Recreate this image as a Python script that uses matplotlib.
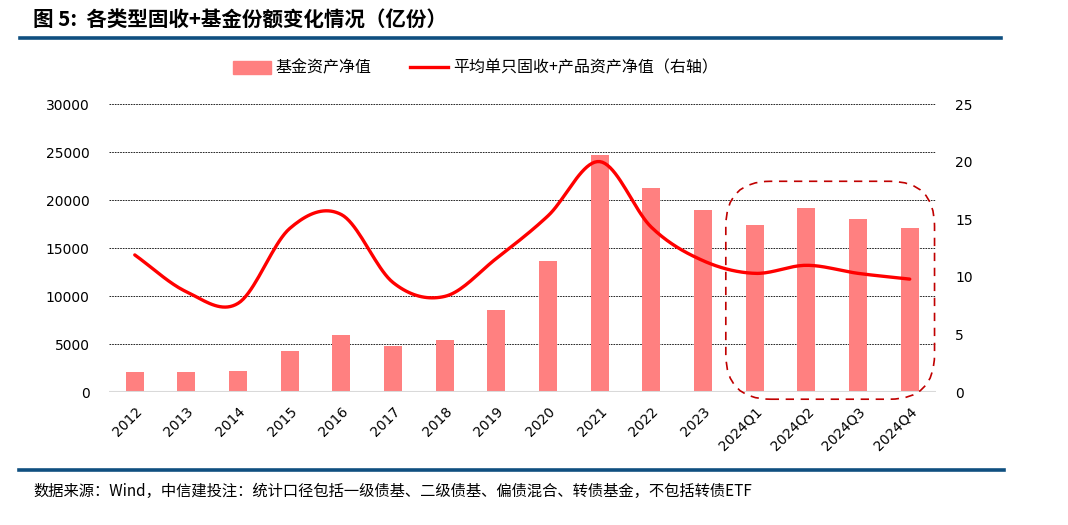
import matplotlib
matplotlib.use("Agg")
import matplotlib.pyplot as plt
import numpy as np
from matplotlib.patches import FancyBboxPatch
from matplotlib.lines import Line2D

plt.rcParams["font.family"] = ["Noto Sans CJK SC", "DejaVu Sans"]

categories = ["2012", "2013", "2014", "2015", "2016", "2017", "2018", "2019",
              "2020", "2021", "2022", "2023", "2024Q1", "2024Q2", "2024Q3", "2024Q4"]
net_assets = [2100, 2050, 2150, 4300, 5900, 4800, 5400, 8500,
              13600, 24700, 21300, 19000, 17400, 19200, 18000, 17100]
avg_assets = [11.9, 8.7, 7.7, 14.2, 15.4, 9.5, 8.3, 11.6,
              15.3, 20.0, 14.3, 11.4, 10.3, 11.0, 10.3, 9.8]
left_ticks = [0, 5000, 10000, 15000, 20000, 25000, 30000]
right_ticks = [0, 5, 10, 15, 20, 25]

BAR = "#ff8080"
LINE = "#ff0000"


def smooth(x, y, n=20):
    # Catmull-Rom, like the smoothed line in Excel
    x = np.asarray(x, float)
    y = np.asarray(y, float)
    px = np.concatenate([[2 * x[0] - x[1]], x, [2 * x[-1] - x[-2]]])
    py = np.concatenate([[2 * y[0] - y[1]], y, [2 * y[-1] - y[-2]]])
    xs, ys = [], []
    t = np.linspace(0, 1, n, endpoint=False)
    for i in range(1, len(px) - 2):
        for arr, out in ((px, xs), (py, ys)):
            p0, p1, p2, p3 = arr[i - 1], arr[i], arr[i + 1], arr[i + 2]
            out.extend(0.5 * (2 * p1 + (-p0 + p2) * t
                              + (2 * p0 - 5 * p1 + 4 * p2 - p3) * t ** 2
                              + (-p0 + 3 * p1 - 3 * p2 + p3) * t ** 3))
    xs.append(x[-1])
    ys.append(y[-1])
    return np.array(xs), np.array(ys)


fig = plt.figure(figsize=(10.68, 5.25), dpi=100)
ax = fig.add_axes([0.102, 0.2533, 0.774, 0.5486])
ax2 = ax.twinx()

idx = np.arange(len(categories))
ax.bar(idx, net_assets, width=0.35, color=BAR, zorder=2)
ax.set_ylim(0, 30000)
ax.set_xlim(-0.5, len(categories) - 0.5)
ax.set_yticks(left_ticks)
ax.set_xticks(idx)
ax.set_xticklabels(categories, rotation=45, ha="right", rotation_mode="anchor",
                   fontsize=10, family="DejaVu Sans")
ax.tick_params(axis="y", labelsize=10, length=0, pad=14)
ax.tick_params(axis="x", length=0, pad=9)
for lab in ax.get_yticklabels():
    lab.set_family("DejaVu Sans")
for v in left_ticks[1:]:
    ax.axhline(v, color="black", lw=0.6, ls=(0, (2, 1.2)), zorder=1)
ax.axhline(0, color="#d9d9d9", lw=2.2, zorder=3)

sx, sy = smooth(idx, avg_assets)
ax2.plot(sx, sy, color=LINE, lw=2.4, solid_capstyle="round", zorder=4)
ax2.set_ylim(0, 25)
ax2.set_yticks(right_ticks)
ax2.tick_params(axis="y", labelsize=10, length=0, pad=14)
for lab in ax2.get_yticklabels():
    lab.set_family("DejaVu Sans")

for a in (ax, ax2):
    for s in a.spines.values():
        s.set_visible(False)

# dashed rounded box around the 2024 quarters
fig.canvas.draw()
to_fig = ax.transData + fig.transFigure.inverted()
(x0, y0) = to_fig.transform((11.44, -750))
(x1, y1) = to_fig.transform((15.48, 21950))
aspect = fig.get_figwidth() / fig.get_figheight()
box = FancyBboxPatch((x0, y0), x1 - x0, y1 - y0,
                     boxstyle="round,pad=0,rounding_size=0.042",
                     mutation_aspect=aspect, transform=fig.transFigure,
                     fill=False, ec="#c00000", lw=1.2, ls=(0, (5, 4)), zorder=5)
fig.patches.append(box)

# legend
handles = [plt.Rectangle((0, 0), 1, 1, color=BAR),
           Line2D([0], [0], color=LINE, lw=2.4)]
fig.legend(handles, ["基金资产净值", "平均单只固收+产品资产净值（右轴）"],
           loc="center", bbox_to_anchor=(0.445, 0.87), ncol=2, frameon=False,
           fontsize=11.5, handlelength=2.4, handleheight=0.9, columnspacing=2.4,
           handletextpad=0.3)

# title and rules
fig.text(0.031, 0.962, "图 5:  各类型固收+基金份额变化情况（亿份）", fontsize=14.8,
         fontweight="bold", va="center", ha="left")
fig.add_artist(Line2D([0.019, 0.937], [0.928, 0.928], color="#0f4f80", lw=2.6))
fig.add_artist(Line2D([0.018, 0.94], [0.104, 0.104], color="#0f4f80", lw=2.6))
fig.text(0.031, 0.063, "数据来源：Wind，中信建投注：统计口径包括一级债基、二级债基、偏债混合、转债基金，不包括转债ETF",
         fontsize=11, va="center", ha="left", style="italic")

fig.savefig("out.png", dpi=100)
